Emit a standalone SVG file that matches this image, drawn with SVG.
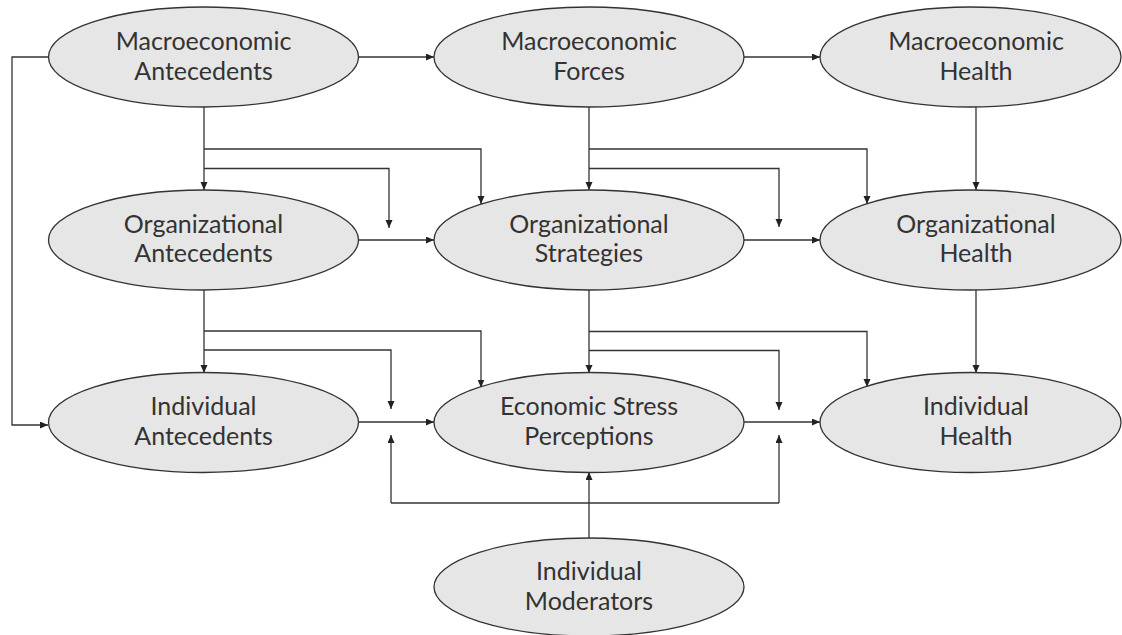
<svg xmlns="http://www.w3.org/2000/svg" width="1122" height="635" viewBox="0 0 1122 635">
<style>
.node ellipse{fill:#e6e6e6;stroke:#333;stroke-width:1.3}
.node text{font-family:Lato,"Liberation Sans",sans-serif;font-size:25px;fill:#333;text-anchor:middle}
.conn path{fill:none;stroke:#333;stroke-width:1.3}
.conn path.a{marker-end:url(#arr)}
</style>
<defs>
<marker id="arr" markerUnits="userSpaceOnUse" markerWidth="9" markerHeight="8" refX="8" refY="3.5" orient="auto">
<path d="M0,0 L8,3.5 L0,7 z" fill="#222"/>
</marker>
</defs>
<rect width="1122" height="635" fill="#fff"/>
<g id="connectors" class="conn">
<path class="a" d="M358,57 H434"/>
<path class="a" d="M744,57 H820"/>
<path class="a" d="M358,240 H434"/>
<path class="a" d="M744,240 H820"/>
<path class="a" d="M358,422 H434"/>
<path class="a" d="M744,422 H820"/>
<path class="a" d="M49,57 H12 V425 H48"/>
<path class="a" d="M204,107 V190"/>
<path class="a" d="M204,149 H481 V204"/>
<path class="a" d="M204,168.5 H389 V228"/>
<path class="a" d="M589,107 V190"/>
<path class="a" d="M589,149 H867 V204"/>
<path class="a" d="M589,168.5 H779 V227"/>
<path class="a" d="M976,107 V190"/>
<path class="a" d="M204,290 V373"/>
<path class="a" d="M204,331 H481 V387.5"/>
<path class="a" d="M204,350 H391 V409"/>
<path class="a" d="M589,290 V373"/>
<path class="a" d="M589,331.5 H867 V387"/>
<path class="a" d="M589,350.5 H779 V410"/>
<path class="a" d="M976,290 V373"/>
<path class="a" d="M589,538 V472"/>
<path d="M391,503 H779"/>
<path class="a" d="M391,503 V435"/>
<path class="a" d="M779,503 V435"/>
</g>
<g id="macro-antecedents" class="node"><ellipse cx="203.5" cy="57" rx="155" ry="50"/><text x="203.5" y="50">Macroeconomic</text><text x="203.5" y="80">Antecedents</text></g>
<g id="macro-forces" class="node"><ellipse cx="589" cy="57" rx="155" ry="50"/><text x="589" y="50">Macroeconomic</text><text x="589" y="80">Forces</text></g>
<g id="macro-health" class="node"><ellipse cx="970.5" cy="57" rx="150.5" ry="50"/><text x="976" y="50">Macroeconomic</text><text x="976" y="80">Health</text></g>
<g id="org-antecedents" class="node"><ellipse cx="203.5" cy="240" rx="155" ry="50"/><text x="203.5" y="233">Organizational</text><text x="203.5" y="262">Antecedents</text></g>
<g id="org-strategies" class="node"><ellipse cx="589" cy="240" rx="155" ry="50"/><text x="589" y="233">Organizational</text><text x="589" y="262">Strategies</text></g>
<g id="org-health" class="node"><ellipse cx="970.5" cy="240" rx="150.5" ry="50"/><text x="976" y="233">Organizational</text><text x="976" y="262">Health</text></g>
<g id="ind-antecedents" class="node"><ellipse cx="203.5" cy="422.5" rx="155" ry="50"/><text x="203.5" y="415">Individual</text><text x="203.5" y="444.5">Antecedents</text></g>
<g id="stress-perceptions" class="node"><ellipse cx="589" cy="422.5" rx="155" ry="50"/><text x="589" y="415">Economic Stress</text><text x="589" y="444.5">Perceptions</text></g>
<g id="ind-health" class="node"><ellipse cx="970.5" cy="422.5" rx="150.5" ry="50"/><text x="976" y="415">Individual</text><text x="976" y="444.5">Health</text></g>
<g id="ind-moderators" class="node"><ellipse cx="589" cy="587" rx="155" ry="49"/><text x="589" y="580">Individual</text><text x="589" y="610">Moderators</text></g>
</svg>
